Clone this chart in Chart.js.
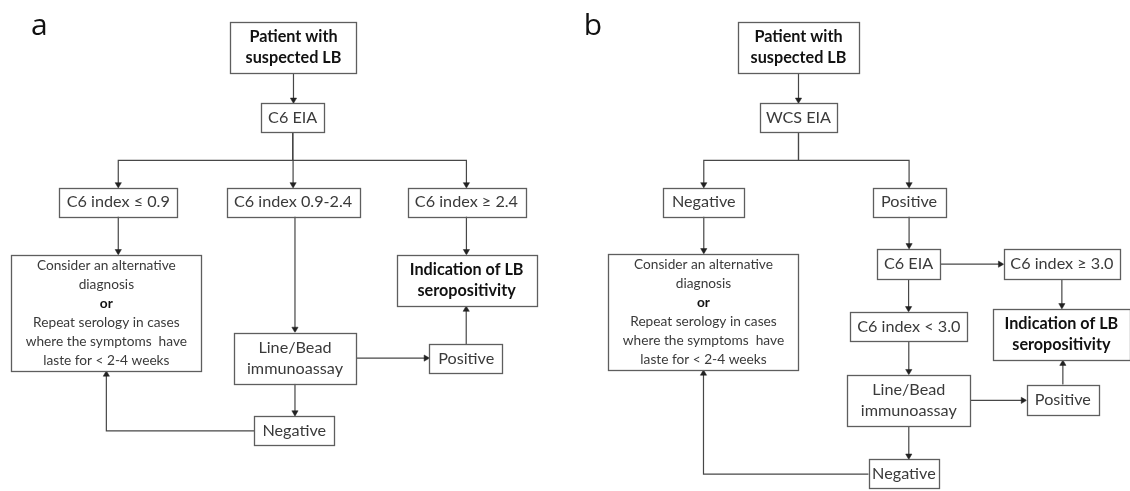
<!DOCTYPE html>
<html>
<head>
<meta charset="utf-8">
<script src="https://cdn.jsdelivr.net/npm/chart.js@4.4.1/dist/chart.umd.min.js"></script>
<style>
  html, body { margin: 0; padding: 0; background: #fff; }
  #wrap { width: 1130px; height: 491px; }
</style>
</head>
<body>
<div id="wrap"><canvas id="flow"></canvas></div>
<script>
// Flowchart text (panel a / panel b)
const panelLetters = ['a', 'b'];

const nodesA = [
  ['Patient with', 'suspected LB'],
  ['C6 EIA'],
  ['C6 index \u2264 0.9'],
  ['C6 index 0.9-2.4'],
  ['C6 index \u2265 2.4'],
  ['Consider an alternative', 'diagnosis', 'or', 'Repeat serology in cases', 'where the symptoms  have', 'laste for < 2-4 weeks'],
  ['Indication of LB', 'seropositivity'],
  ['Line/Bead', 'immunoassay'],
  ['Positive'],
  ['Negative']
];

const nodesB = [
  ['Patient with', 'suspected LB'],
  ['WCS EIA'],
  ['Negative'],
  ['Positive'],
  ['Consider an alternative', 'diagnosis', 'or', 'Repeat serology in cases', 'where the symptoms  have', 'laste for < 2-4 weeks'],
  ['C6 EIA'],
  ['C6 index \u2265 3.0'],
  ['C6 index < 3.0'],
  ['Indication of LB', 'seropositivity'],
  ['Line/Bead', 'immunoassay'],
  ['Positive'],
  ['Negative']
];

// connections: [from, to, route]
const edgesA = [
  [0, 1, 'down'],
  [1, 2, 'fork'], [1, 3, 'fork'], [1, 4, 'fork'],
  [2, 5, 'down'], [3, 7, 'downTo'], [4, 6, 'down'],
  [7, 8, 'right'], [8, 6, 'up'], [7, 9, 'down'],
  [9, 5, 'leftUp']
];

const edgesB = [
  [0, 1, 'down'],
  [1, 2, 'fork'], [1, 3, 'fork'],
  [2, 4, 'down'], [3, 5, 'down'],
  [5, 6, 'right'], [6, 8, 'down'], [5, 7, 'down'],
  [7, 9, 'down'], [9, 10, 'right'], [10, 8, 'up'],
  [9, 11, 'down'], [11, 4, 'leftUp']
];

const boldLines = ['Patient with', 'suspected LB', 'Indication of LB', 'seropositivity', 'or'];

// layout: box centre x, centre y, width, height (in axis units)
const layoutA = [
  [291.5, 44, 127, 52],
  [290.7, 116, 63.6, 30],
  [115, 201.5, 119, 29],
  [291.1, 201.5, 133.6, 29],
  [465.7, 201.5, 118.6, 29],
  [103, 314, 191.5, 118],
  [465.9, 281, 141, 52],
  [293, 360, 123.2, 52],
  [465.5, 361, 74, 30],
  [292.3, 434, 81, 30]
];

const layoutB = [
  [800.2, 44, 122, 52],
  [800.2, 116, 78, 30],
  [704.8, 201.5, 81.5, 29],
  [911.6, 201.5, 73.5, 29],
  [704.5, 313, 191.7, 118],
  [911.1, 264.5, 63.6, 31],
  [1065.5, 264.5, 117, 31],
  [911.3, 328, 117.8, 30],
  [1065, 336, 138, 52],
  [911.3, 403, 123.6, 52],
  [1066.5, 402.5, 73, 31],
  [906.4, 478, 71, 30]
];

const letterPos = [[27, 31], [584, 31]];

const LINE = '#474747';
const BORDER = '#5e5e5e';
const TEXT = '#3a3a3a';
const ARROW_R = 3.6;

function box(l) {
  return { cx: l[0], cy: l[1], left: l[0] - l[2] / 2, right: l[0] + l[2] / 2, top: l[1] - l[3] / 2, bottom: l[1] + l[3] / 2 };
}

// build polyline + arrow direction for a connection
function route(edge, layout) {
  const a = box(layout[edge[0]]);
  const b = box(layout[edge[1]]);
  let pts, dir;
  switch (edge[2]) {
    case 'down':
      pts = [[a.cx, a.bottom], [a.cx, b.top]]; dir = 'down'; break;
    case 'downTo':
      pts = [[b.cx, a.bottom], [b.cx, b.top]]; dir = 'down'; break;
    case 'fork': {
      const midY = (a.bottom + b.top) / 2;
      pts = [[a.cx, a.bottom], [a.cx, midY], [b.cx, midY], [b.cx, b.top]]; dir = 'down'; break;
    }
    case 'right':
      pts = [[a.right, a.cy], [b.left, a.cy]]; dir = 'right'; break;
    case 'up':
      pts = [[a.cx, a.top], [a.cx, b.bottom]]; dir = 'up'; break;
    case 'leftUp':
      pts = [[a.left, a.cy], [b.cx, a.cy], [b.cx, b.bottom]]; dir = 'up'; break;
  }
  // pull the last point back so the triangle tip touches the box
  const last = pts[pts.length - 1];
  const off = { down: [0, -ARROW_R], up: [0, ARROW_R], right: [-ARROW_R, 0], left: [ARROW_R, 0] }[dir];
  pts[pts.length - 1] = [last[0] + off[0], last[1] + off[1]];
  const rot = { up: 0, right: 90, down: 180, left: 270 }[dir];
  return { pts, rot };
}

function edgeDatasets(edges, layout) {
  return edges.map(e => {
    const r = route(e, layout);
    const n = r.pts.length;
    return {
      type: 'scatter',
      data: r.pts.map(p => ({ x: p[0], y: p[1] })),
      showLine: true,
      borderColor: LINE,
      borderWidth: 1.2,
      pointStyle: 'triangle',
      pointRadius: r.pts.map((p, i) => i === n - 1 ? ARROW_R : 0),
      pointRotation: r.rot,
      pointBackgroundColor: '#222',
      pointBorderColor: '#222',
      pointBorderWidth: 0.5,
      pointHoverRadius: 0,
      clip: false
    };
  });
}

const boxesPlugin = {
  id: 'boxes',
  afterDatasetsDraw(chart) {
    const ctx = chart.ctx;
    const xs = chart.scales.x;
    const ys = chart.scales.y;
    const drawPanel = (nodes, layout) => {
      nodes.forEach((lines, i) => {
        const l = layout[i];
        const x0 = xs.getPixelForValue(l[0] - l[2] / 2);
        const x1 = xs.getPixelForValue(l[0] + l[2] / 2);
        const y0 = ys.getPixelForValue(l[1] - l[3] / 2);
        const y1 = ys.getPixelForValue(l[1] + l[3] / 2);
        ctx.save();
        ctx.fillStyle = '#fff';
        ctx.fillRect(x0, y0, x1 - x0, y1 - y0);
        ctx.strokeStyle = BORDER;
        ctx.lineWidth = 1.3;
        ctx.strokeRect(Math.round(x0) + 0.5, Math.round(y0) + 0.5, Math.round(x1 - x0), Math.round(y1 - y0));
        const small = lines.length > 3;
        const size = small ? 13.7 : 16.2;
        const lh = small ? 19 : 21.5;
        const cx = (x0 + x1) / 2;
        const cy = (y0 + y1) / 2;
        ctx.textAlign = 'center';
        ctx.textBaseline = 'middle';
        lines.forEach((t, k) => {
          const bold = boldLines.includes(t);
          ctx.font = (bold ? 'bold ' : '') + size + 'px Lato, "Open Sans", sans-serif';
          ctx.fillStyle = bold ? '#111' : TEXT;
          ctx.fillText(t, cx, cy + (k - (lines.length - 1) / 2) * lh);
        });
        ctx.restore();
      });
    };
    drawPanel(nodesA, layoutA);
    drawPanel(nodesB, layoutB);

    ctx.save();
    ctx.fillStyle = '#111';
    ctx.font = '30px "Open Sans", Lato, sans-serif';
    ctx.textAlign = 'left';
    ctx.textBaseline = 'alphabetic';
    panelLetters.forEach((t, i) => {
      ctx.fillText(t, xs.getPixelForValue(letterPos[i][0]), ys.getPixelForValue(letterPos[i][1]));
    });
    ctx.restore();
  }
};

new Chart(document.getElementById('flow'), {
  type: 'scatter',
  data: {
    datasets: [...edgeDatasets(edgesA, layoutA), ...edgeDatasets(edgesB, layoutB)]
  },
  options: {
    responsive: true,
    maintainAspectRatio: false,
    animation: false,
    layout: { padding: 0 },
    plugins: {
      legend: { display: false },
      tooltip: { enabled: false }
    },
    scales: {
      x: { type: 'linear', min: 0, max: 1130, display: false },
      y: { type: 'linear', min: 0, max: 491, reverse: true, display: false }
    }
  },
  plugins: [boxesPlugin]
});
</script>
</body>
</html>
